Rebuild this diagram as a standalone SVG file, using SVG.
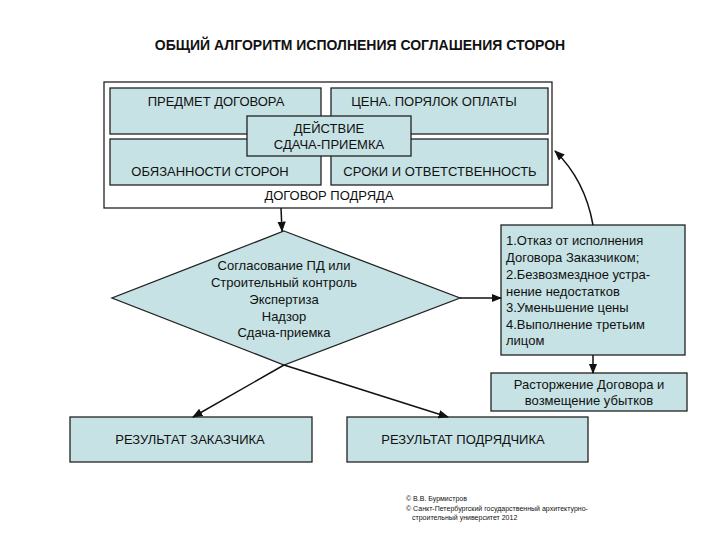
<svg xmlns="http://www.w3.org/2000/svg" width="720" height="540" viewBox="0 0 720 540">
<defs>
<style>
.b{fill:#c6e2e4;stroke:#222;stroke-width:1.3}
.t{font-family:"Liberation Sans",Arial,sans-serif;font-size:13px;fill:#111}
.c{text-anchor:middle}
.l{stroke:#111;stroke-width:1.5;fill:none;marker-end:url(#a)}
</style>
<marker id="a" viewBox="0 0 10 10" refX="9" refY="5" markerWidth="7" markerHeight="7" orient="auto"><path d="M0,1 L10,5 L0,9z" fill="#111"/></marker>
</defs>
<rect width="720" height="540" fill="#fff"/>
<text class="t c" x="360" y="50" style="font-weight:bold;font-size:14px">ОБЩИЙ АЛГОРИТМ ИСПОЛНЕНИЯ СОГЛАШЕНИЯ СТОРОН</text>
<g id="contract">
<rect x="104" y="82" width="448" height="126" fill="#fff" stroke="#222" stroke-width="1.3"/>
<text class="t c" x="329" y="200">ДОГОВОР ПОДРЯДА</text>
</g>
<g id="predmet"><rect class="b" x="110" y="88" width="211" height="46"/><text class="t c" x="216" y="106">ПРЕДМЕТ ДОГОВОРА</text></g>
<g id="cena"><rect class="b" x="331" y="88" width="217" height="46"/><text class="t c" x="434" y="106">ЦЕНА. ПОРЯЛОК ОПЛАТЫ</text></g>
<g id="obyaz"><rect class="b" x="110" y="139" width="211" height="46"/><text class="t c" x="210" y="176">ОБЯЗАННОСТИ СТОРОН</text></g>
<g id="sroki"><rect class="b" x="331" y="139" width="217" height="46"/><text class="t c" x="440" y="176">СРОКИ И ОТВЕТСТВЕННОСТЬ</text></g>
<g id="deystvie"><rect class="b" x="247" y="116" width="164" height="40"/><text class="t c" x="329" y="133">ДЕЙСТВИЕ</text><text class="t c" x="329" y="149">СДАЧА-ПРИЕМКА</text></g>
<g id="check">
<polygon class="b" points="284,231 460,298 284,365 112,298"/>
<text class="t c" x="284" y="270">Согласование ПД или</text>
<text class="t c" x="284" y="287">Строительный контроль</text>
<text class="t c" x="284" y="304">Экспертиза</text>
<text class="t c" x="284" y="321">Надзор</text>
<text class="t c" x="284" y="337">Сдача-приемка</text>
</g>
<g id="remedies">
<rect class="b" x="501" y="225" width="184" height="130"/>
<text class="t" x="506" y="245">1.Отказ от исполнения</text>
<text class="t" x="506" y="262">Договора Заказчиком;</text>
<text class="t" x="506" y="279">2.Безвозмездное устра-</text>
<text class="t" x="506" y="296">нение недостатков</text>
<text class="t" x="506" y="312">3.Уменьшение цены</text>
<text class="t" x="506" y="329">4.Выполнение третьим</text>
<text class="t" x="506" y="345">лицом</text>
</g>
<g id="termination"><rect class="b" x="491" y="373" width="196" height="38"/><text class="t c" x="589" y="389">Расторжение Договора и</text><text class="t c" x="589" y="405">возмещение убытков</text></g>
<g id="res1"><rect class="b" x="70" y="417" width="242" height="45"/><text class="t c" x="190" y="444">РЕЗУЛЬТАТ ЗАКАЗЧИКА</text></g>
<g id="res2"><rect class="b" x="347" y="417" width="241" height="45"/><text class="t c" x="463" y="444">РЕЗУЛЬТАТ ПОДРЯДЧИКА</text></g>
<g id="connectors">
<path class="l" d="M281,208 L282,231"/>
<path class="l" d="M460,298 L501,298"/>
<path class="l" d="M593,225 Q585,180 555,151"/>
<path class="l" d="M593,355 L593,373"/>
<path class="l" d="M284,365 L193,417"/>
<path class="l" d="M284,365 L448,417"/>
</g>
<g id="copyright" font-family="Liberation Sans,Arial,sans-serif" font-size="7" fill="#111">
<text x="406" y="501">© В.В. Бурмистров</text>
<text x="406" y="511">© Санкт-Петербургский государственный архитектурно-</text>
<text x="412" y="520">строительный университет 2012</text>
</g>
</svg>
